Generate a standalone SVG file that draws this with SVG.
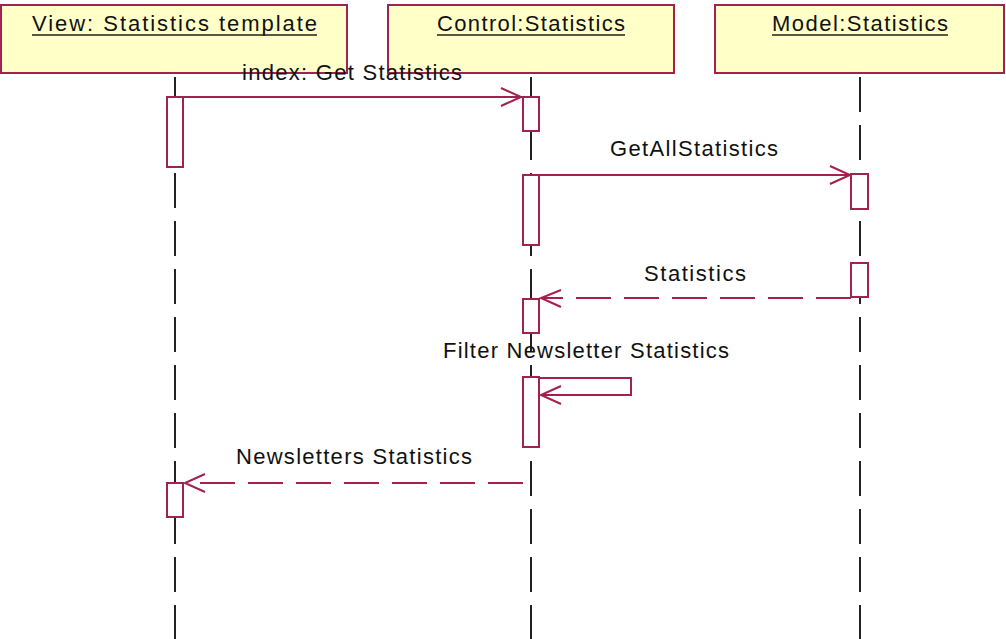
<svg xmlns="http://www.w3.org/2000/svg" width="1006" height="639" viewBox="0 0 1006 639">
<style>
.obj{fill:#FFFFC8;stroke:#A3214F;stroke-width:2}
.act{fill:#FFFFFF;stroke:#A3214F;stroke-width:2}
.life{stroke:#222;stroke-width:2;stroke-dasharray:35 13;fill:none}
.msg{stroke:#A3214F;stroke-width:2;fill:none}
.ret{stroke:#A3214F;stroke-width:2;fill:none;stroke-dasharray:35 13}
.head{stroke:#A3214F;stroke-width:2;fill:none}
.t{font-family:"Liberation Sans",Arial,sans-serif;font-size:22px;fill:#111}
.ul{stroke:#222;stroke-width:1.5}
</style>
<rect width="1006" height="639" fill="#FFFFFF"/>
<g id="lifelines">
<line class="life" x1="175" y1="77" x2="175" y2="639"/>
<line class="life" x1="531" y1="77" x2="531" y2="639"/>
<line class="life" x1="860" y1="77" x2="860" y2="639"/>
</g>
<g id="view">
<rect class="obj" x="1" y="5" width="346" height="68"/>
<text class="t" x="32" y="31" textLength="285" lengthAdjust="spacing">View: Statistics template</text>
<line class="ul" x1="32" y1="35" x2="317" y2="35"/>
<rect class="act" x="167" y="97" width="16" height="70"/>
<rect class="act" x="167" y="483" width="16" height="34"/>
</g>
<g id="control">
<rect class="obj" x="388" y="5" width="286" height="68"/>
<text class="t" x="437" y="31" textLength="188" lengthAdjust="spacing">Control:Statistics</text>
<line class="ul" x1="437" y1="35" x2="625" y2="35"/>
<rect class="act" x="523" y="97" width="16" height="34"/>
<rect class="act" x="523" y="175" width="16" height="70"/>
<rect class="act" x="523" y="299" width="16" height="34"/>
<rect class="act" x="523" y="377" width="16" height="70"/>
</g>
<g id="model">
<rect class="obj" x="715" y="5" width="289" height="68"/>
<text class="t" x="772" y="31" textLength="176" lengthAdjust="spacing">Model:Statistics</text>
<line class="ul" x1="772" y1="35" x2="948" y2="35"/>
<rect class="act" x="851" y="174" width="17" height="35"/>
<rect class="act" x="851" y="263" width="17" height="34"/>
</g>
<g id="connectors">
<line class="msg" x1="183" y1="97" x2="522" y2="97"/>
<polyline class="head" points="501,88 521,97 501,106"/>
<text class="t" x="242" y="80" textLength="220" lengthAdjust="spacing">index: Get Statistics</text>
<line class="msg" x1="539" y1="175" x2="850" y2="175"/>
<polyline class="head" points="830,166 850,175 830,184"/>
<text class="t" x="610" y="156" textLength="168" lengthAdjust="spacing">GetAllStatistics</text>
<line class="ret" x1="851" y1="298" x2="541" y2="298"/>
<polyline class="head" points="561,290 541,298 561,307"/>
<text class="t" x="644" y="281" textLength="102" lengthAdjust="spacing">Statistics</text>
<polyline class="msg" points="539,378 631,378 631,395 541,395"/>
<polyline class="head" points="561,386 541,395 561,404"/>
<text class="t" x="443" y="358" textLength="286" lengthAdjust="spacing">Filter Newsletter Statistics</text>
<line class="ret" x1="523" y1="483" x2="185" y2="483"/>
<polyline class="head" points="205,474 185,483 205,492"/>
<text class="t" x="236" y="464" textLength="236" lengthAdjust="spacing">Newsletters Statistics</text>
</g>
</svg>
